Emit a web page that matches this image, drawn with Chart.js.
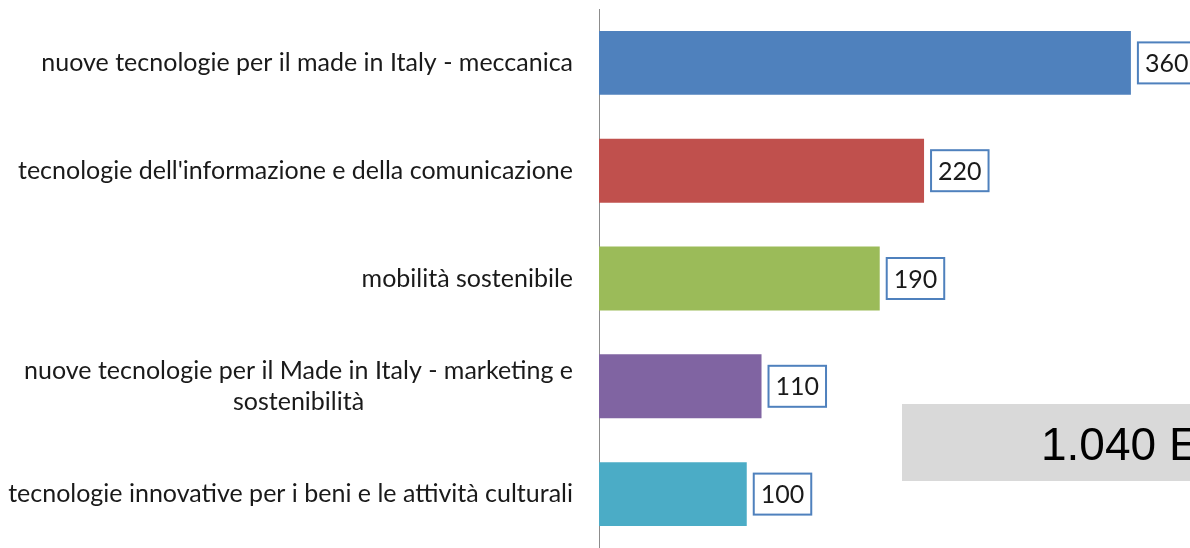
<!DOCTYPE html>
<html>
<head>
<meta charset="utf-8">
<script src="https://cdn.jsdelivr.net/npm/chart.js@4/dist/chart.umd.min.js"></script>
<style>
  html, body { margin: 0; padding: 0; background: #fff; }
  #wrap { width: 1190px; height: 548px; position: relative; }
</style>
</head>
<body>
<div id="wrap"><canvas id="corsiChart"></canvas></div>
<script>
const categories = [
  ['nuove tecnologie per il made in Italy - meccanica'],
  ["tecnologie dell'informazione e della comunicazione"],
  ['mobilità sostenibile'],
  ['nuove tecnologie per il Made in Italy - marketing e', 'sostenibilità'],
  ['tecnologie innovative per i beni e le attività culturali']
];
const values = [360, 220, 190, 110, 100];
const barColors = ['#4F81BD', '#C0504D', '#9BBB59', '#8064A2', '#4BACC6'];
const totalLabel = '1.040 Euro';

const labelFont = '25px Lato';

// category labels, right aligned, multi-line centred on each other
const categoryLabels = {
  id: 'categoryLabels',
  afterDraw(chart) {
    const { ctx, scales: { y } } = chart;
    ctx.save();
    ctx.font = labelFont;
    ctx.fillStyle = '#1a1a1a';
    ctx.textBaseline = 'middle';
    const right = chart.chartArea.left - 26;
    categories.forEach((lines, i) => {
      const cy = y.getPixelForValue(i);
      const widths = lines.map(l => ctx.measureText(l).width);
      const maxW = Math.max(...widths);
      const lh = 31;
      lines.forEach((line, j) => {
        const ly = cy + (j - (lines.length - 1) / 2) * lh;
        const lx = right - maxW / 2 - widths[j] / 2;
        ctx.textAlign = 'left';
        ctx.fillText(line, lx, ly);
      });
    });
    ctx.restore();
  }
};

// boxed value labels next to each bar
const valueBoxes = {
  id: 'valueBoxes',
  afterDatasetsDraw(chart) {
    const { ctx } = chart;
    const meta = chart.getDatasetMeta(0);
    ctx.save();
    ctx.font = '25px Lato';
    ctx.textBaseline = 'middle';
    ctx.textAlign = 'center';
    meta.data.forEach((bar, i) => {
      const txt = String(values[i]);
      const w = ctx.measureText(txt).width + 14;
      const h = 41;
      const x = bar.x + 7;
      const yTop = bar.y - h / 2;
      ctx.fillStyle = '#fff';
      ctx.fillRect(x, yTop, w, h);
      ctx.strokeStyle = '#4F81BD';
      ctx.lineWidth = 2;
      ctx.strokeRect(x, yTop, w, h);
      ctx.fillStyle = '#1a1a1a';
      ctx.fillText(txt, x + w / 2, bar.y + 1);
    });
    ctx.restore();
  }
};

// grey total box
const totalBox = {
  id: 'totalBox',
  afterDraw(chart) {
    const { ctx } = chart;
    ctx.save();
    ctx.fillStyle = '#D9D9D9';
    ctx.fillRect(902, 404, 300, 77);
    ctx.fillStyle = '#000';
    ctx.font = '46px "Liberation Sans"';
    ctx.textBaseline = 'alphabetic';
    ctx.textAlign = 'left';
    ctx.fillText(totalLabel, 1041, 460);
    ctx.restore();
  }
};

const ctx = document.getElementById('corsiChart');

new Chart(ctx, {
  type: 'bar',
  data: {
    labels: categories,
    datasets: [{
      data: values,
      backgroundColor: barColors,
      borderWidth: 0,
      barPercentage: 0.593,
      categoryPercentage: 1
    }]
  },
  options: {
    indexAxis: 'y',
    responsive: true,
    maintainAspectRatio: false,
    animation: false,
    layout: { padding: { left: 599, top: 9, right: 0, bottom: 0 } },
    scales: {
      x: { display: false, min: 0, max: 400 },
      y: {
        grid: { display: false, drawTicks: false },
        border: { display: true, color: '#8c8c8c', width: 1 },
        ticks: { display: false }
      }
    },
    plugins: {
      legend: { display: false },
      tooltip: { enabled: false }
    }
  },
  plugins: [categoryLabels, valueBoxes, totalBox]
});
</script>
</body>
</html>
